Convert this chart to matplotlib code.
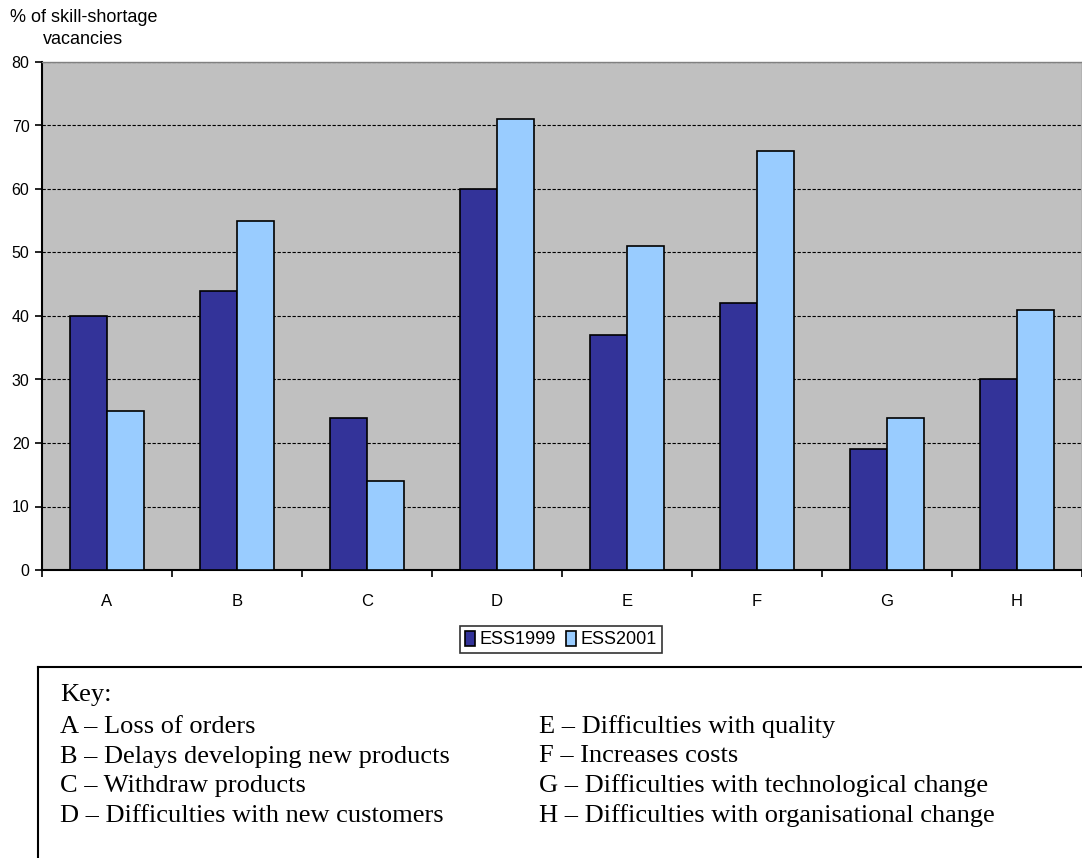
import numpy as np
import matplotlib.pyplot as plt
from matplotlib.lines import Line2D

# Datos
categorias = ['A', 'B', 'C', 'D', 'E', 'F', 'G', 'H']
ess1999 = [40, 44, 24, 60, 37, 42, 19, 30]
ess2001 = [25, 55, 14, 71, 51, 66, 24, 41]
series = ['ESS1999', 'ESS2001']
clave_izq = ['A \u2013 Loss of orders',
             'B \u2013 Delays developing new products',
             'C \u2013 Withdraw products',
             'D \u2013 Difficulties with new customers']
clave_der = ['E \u2013 Difficulties with quality',
             'F \u2013 Increases costs',
             'G \u2013 Difficulties with technological change',
             'H \u2013 Difficulties with organisational change']

plt.rcParams['font.family'] = ['Liberation Sans', 'DejaVu Sans']

fig = plt.figure(figsize=(10.82, 8.58), dpi=100)
W, H = 1082, 858
ax = fig.add_axes([42 / W, 1 - 570 / H, 1 - 42 / W, (570 - 62) / H])
ax.set_facecolor('#C0C0C0')

x = np.arange(len(categorias))
ancho = 0.285
ax.bar(x - ancho / 2, ess1999, ancho, color='#333399', edgecolor='black',
       linewidth=1.2, label=series[0], zorder=3)
ax.bar(x + ancho / 2, ess2001, ancho, color='#99CCFF', edgecolor='black',
       linewidth=1.2, label=series[1], zorder=3)

ax.set_xlim(-0.5, len(categorias) - 0.5)
ax.set_ylim(0, 80)
ax.set_yticks(range(0, 81, 10))
ax.set_xticks(x)
ax.set_xticklabels(categorias, fontsize=12)
ax.set_xticks(np.arange(-0.5, len(categorias)), minor=True)
ax.tick_params(axis='x', which='major', length=0, pad=17)
ax.tick_params(axis='x', which='minor', length=5, width=1.2, direction='out')
ax.tick_params(axis='y', labelsize=11.5, length=5, width=1.2, pad=4)
ax.grid(axis='y', color='black', linestyle=(0, (3, 1.5)), linewidth=0.8, zorder=1)

for lado in ['top', 'right']:
    ax.spines[lado].set_color('#808080')
    ax.spines[lado].set_linewidth(1)
ax.spines['left'].set_linewidth(1.5)
ax.spines['bottom'].set_linewidth(1.5)

fig.text(10 / W, 1 - 17 / H, '% of skill-shortage', fontsize=13, va='center', ha='left')
fig.text(83 / W, 1 - 39 / H, 'vacancies', fontsize=13, va='center', ha='center')

leg = fig.legend(loc='center', bbox_to_anchor=(561 / W, 1 - 639.5 / H), ncol=2,
                 fontsize=13, frameon=True, fancybox=False, edgecolor='black',
                 handlelength=0.55, handleheight=0.9, handletextpad=0.25,
                 columnspacing=0.6, borderpad=0.25, borderaxespad=0)
leg.get_frame().set_linewidth(1.2)

# Recuadro de la clave
fig.add_artist(Line2D([38 / W, 1], [1 - 667 / H, 1 - 667 / H], color='black', lw=1.5))
fig.add_artist(Line2D([38 / W, 38 / W], [1 - 667 / H, 0], color='black', lw=1.5))

serif = ['Liberation Serif', 'DejaVu Serif']
fig.text(60 / W, 1 - 695 / H, 'Key:', fontsize=19, family=serif, va='center')
for i, t in enumerate(clave_izq):
    fig.text(60 / W, 1 - (727 + 29.5 * i) / H, t, fontsize=19, family=serif, va='center')
for i, t in enumerate(clave_der):
    fig.text(539 / W, 1 - (727 + 29.5 * i) / H, t, fontsize=19, family=serif, va='center')

fig.savefig('out.png', dpi=100)
